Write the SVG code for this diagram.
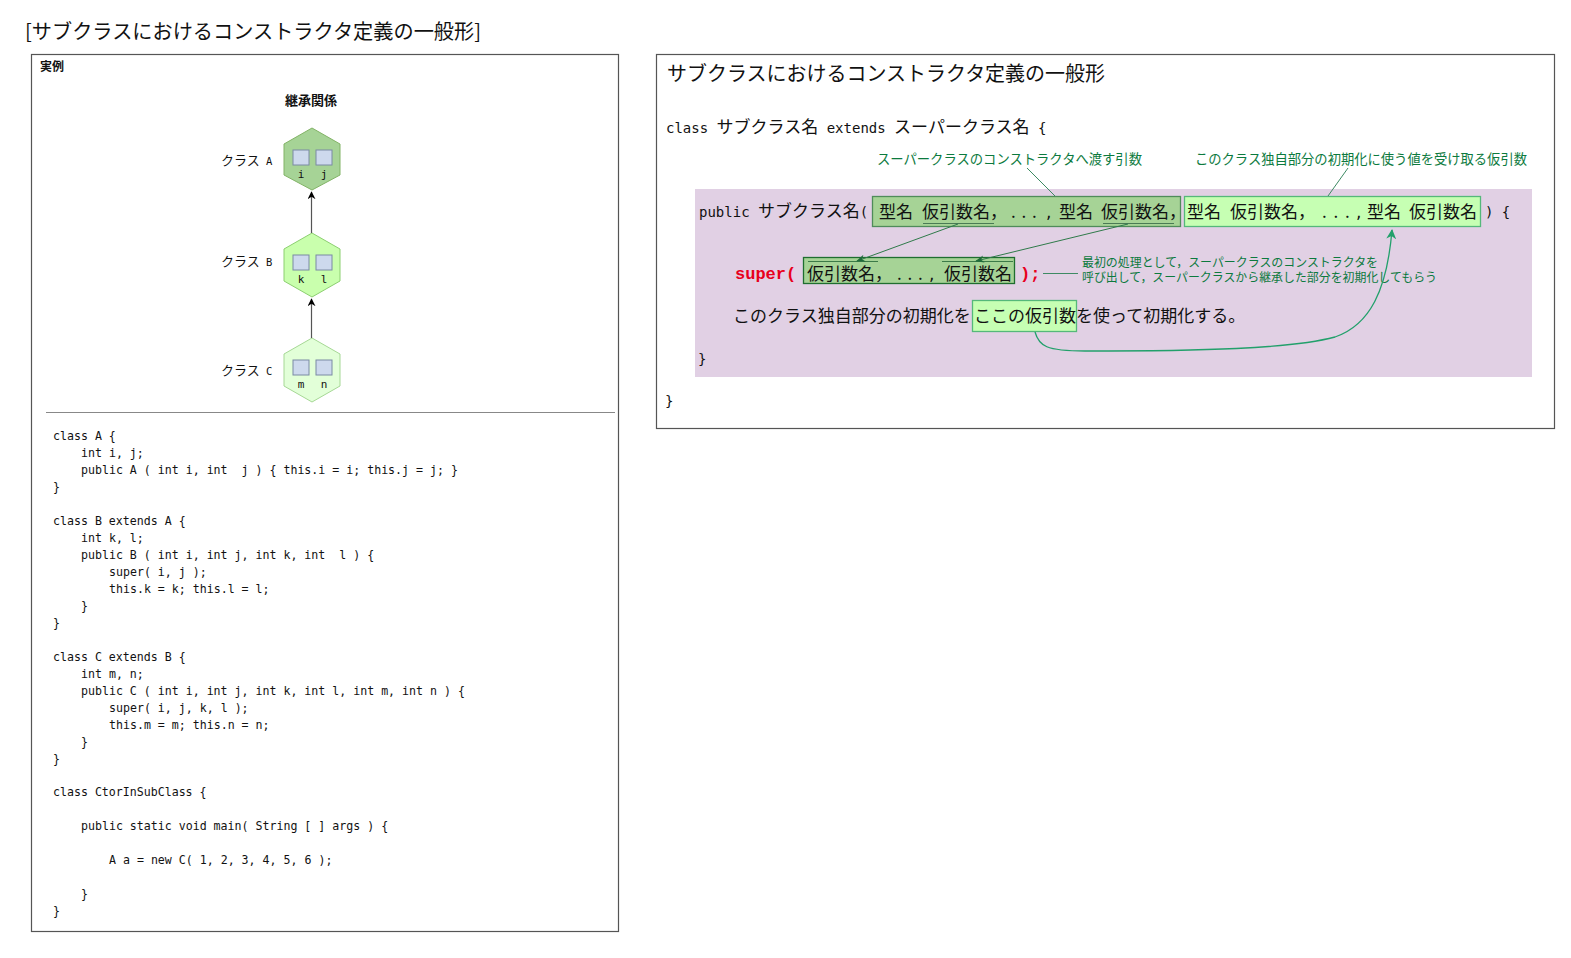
<svg xmlns="http://www.w3.org/2000/svg" width="1571" height="958" viewBox="0 0 1571 958">
<style>
.jp{font-family:"Noto Sans CJK JP","Noto Sans",sans-serif;fill:#111}
.mono{font-family:"DejaVu Sans Mono","Liberation Mono",monospace;fill:#111}
.code{font-family:"DejaVu Sans Mono","Liberation Mono",monospace;font-size:11.6px;fill:#111;white-space:pre}
.ann{font-family:"Noto Sans CJK JP","Noto Sans",sans-serif;fill:#0c7a3e}
.panel{fill:#fff;stroke:#555;stroke-width:1.2}
.sq{fill:#cdd9ed;stroke:#7a8aa3;stroke-width:1}
.hl{font-family:"DejaVu Sans Mono","Liberation Mono",monospace;font-size:11px;fill:#111}
.red{font-family:"Liberation Mono","DejaVu Sans Mono",monospace;font-weight:bold;font-size:17px;fill:#e8001c}
.b17{font-size:17px}
.cm{font-family:"DejaVu Sans","Liberation Sans",sans-serif;font-size:17px;fill:#111}
</style>
<defs>
<marker id="ah" viewBox="0 0 10 10" refX="9" refY="5" markerWidth="8" markerHeight="8" orient="auto-start-reverse" markerUnits="userSpaceOnUse">
<path d="M0,0 L10,5 L0,10 L3,5 Z" fill="#000"/>
</marker>
<marker id="ag" viewBox="0 0 10 10" refX="9" refY="5" markerWidth="9" markerHeight="9" orient="auto" markerUnits="userSpaceOnUse">
<path d="M0,1 L10,5 L0,9 L3,5 Z" fill="#1f6b3a"/>
</marker>
<marker id="at" viewBox="0 0 10 10" refX="9" refY="5" markerWidth="10" markerHeight="10" orient="auto" markerUnits="userSpaceOnUse">
<path d="M0,0 L10,5 L0,10 L3,5 Z" fill="#22a06b"/>
</marker>
</defs>

<text id="main-title" class="jp" x="25" y="39" font-size="20.5" textLength="456" lengthAdjust="spacingAndGlyphs">[サブクラスにおけるコンストラクタ定義の一般形]</text>

<!-- Left panel -->
<g id="example-panel">
<rect class="panel" x="31.5" y="54.5" width="587" height="877"/>
<text class="jp" x="40" y="71" font-size="12" font-weight="bold">実例</text>
<text class="jp" x="311" y="105" font-size="13" font-weight="bold" text-anchor="middle">継承関係</text>
<line x1="46" y1="412.5" x2="615" y2="412.5" stroke="#888" stroke-width="1"/>
</g>

<g id="classA">
<polygon points="312,128 340,144 340,175 312,190 284,175 284,144" fill="#a6d396" stroke="#82b366"/>
<rect class="sq" x="293" y="150" width="16" height="15"/>
<rect class="sq" x="316" y="150" width="16" height="15"/>
<text class="hl" x="301" y="178" text-anchor="middle">i</text>
<text class="hl" x="324" y="178" text-anchor="middle">j</text>
<text class="jp" x="221" y="165" font-size="13">クラス<tspan class="mono" font-size="10.5"> A</tspan></text>
</g>
<g id="classB">
<polygon points="312,233 340,249 340,281 312,297 284,281 284,249" fill="#c9ffad" stroke="#8ccf70"/>
<rect class="sq" x="293" y="255" width="16" height="15"/>
<rect class="sq" x="316" y="255" width="16" height="15"/>
<text class="hl" x="301" y="283" text-anchor="middle">k</text>
<text class="hl" x="324" y="283" text-anchor="middle">l</text>
<text class="jp" x="221" y="266" font-size="13">クラス<tspan class="mono" font-size="10.5"> B</tspan></text>
</g>
<g id="classC">
<polygon points="312,338 340,354 340,386 312,402 284,386 284,354" fill="#e2ffd8" stroke="#a6d895"/>
<rect class="sq" x="293" y="360" width="16" height="15"/>
<rect class="sq" x="316" y="360" width="16" height="15"/>
<text class="hl" x="301" y="388" text-anchor="middle">m</text>
<text class="hl" x="324" y="388" text-anchor="middle">n</text>
<text class="jp" x="221" y="375" font-size="13">クラス<tspan class="mono" font-size="10.5"> C</tspan></text>
</g>

<g id="code">
<text class="code" x="53" y="440">class A {</text>
<text class="code" x="81" y="457">int i, j;</text>
<text class="code" x="81" y="474">public A ( int i, int  j ) { this.i = i; this.j = j; }</text>
<text class="code" x="53" y="491">}</text>
<text class="code" x="53" y="525">class B extends A {</text>
<text class="code" x="81" y="542">int k, l;</text>
<text class="code" x="81" y="559">public B ( int i, int j, int k, int  l ) {</text>
<text class="code" x="109" y="576">super( i, j );</text>
<text class="code" x="109" y="593">this.k = k; this.l = l;</text>
<text class="code" x="81" y="610">}</text>
<text class="code" x="53" y="627">}</text>
<text class="code" x="53" y="661">class C extends B {</text>
<text class="code" x="81" y="678">int m, n;</text>
<text class="code" x="81" y="695">public C ( int i, int j, int k, int l, int m, int n ) {</text>
<text class="code" x="109" y="712">super( i, j, k, l );</text>
<text class="code" x="109" y="729">this.m = m; this.n = n;</text>
<text class="code" x="81" y="746">}</text>
<text class="code" x="53" y="763">}</text>
<text class="code" x="53" y="796">class CtorInSubClass {</text>
<text class="code" x="81" y="830">public static void main( String [ ] args ) {</text>
<text class="code" x="109" y="864">A a = new C( 1, 2, 3, 4, 5, 6 );</text>
<text class="code" x="81" y="898">}</text>
<text class="code" x="53" y="915">}</text>
</g>

<!-- Right panel -->
<g id="general-panel">
<rect class="panel" x="656.5" y="54.5" width="898" height="374"/>
<text class="jp" x="667" y="81" font-size="20.5" textLength="438" lengthAdjust="spacingAndGlyphs">サブクラスにおけるコンストラクタ定義の一般形</text>
<text class="mono" x="666" y="133" font-size="14">class <tspan class="jp" font-size="17">サブクラス名</tspan> extends <tspan class="jp" font-size="17">スーパークラス名</tspan> {</text>
<rect x="695" y="189" width="837" height="188" fill="#e1d0e4"/>
<text class="mono" x="698" y="364" font-size="14">}</text>
<text class="mono" x="665" y="406" font-size="14">}</text>
</g>

<g id="ctor-signature">
<text class="mono" x="699" y="217" font-size="14">public <tspan class="jp" font-size="17">サブクラス名</tspan>(</text>
</g>

<g id="super-args">
<rect x="872.5" y="196.5" width="308" height="30" fill="#a6d396" stroke="#4f8c5a" stroke-width="1.3"/>
<text class="jp b17" x="879" y="218">型名</text>
<text class="jp b17" x="922" y="218">仮引数名，</text>
<text class="jp b17" x="1011 1021.5 1032" y="218">...</text>
<text class="cm" x="1046" y="218">,</text>
<text class="jp b17" x="1059" y="218">型名</text>
<text class="jp b17" x="1101" y="218">仮引数名，</text>
<line x1="923" y1="223.5" x2="994" y2="223.5" stroke="#4a7a55" stroke-width="1"/>
<line x1="1103" y1="223.5" x2="1174" y2="223.5" stroke="#4a7a55" stroke-width="1"/>
</g>

<g id="own-args">
<rect x="1184.5" y="196.5" width="296" height="30" fill="#c6ffb3" stroke="#55b87a" stroke-width="1.3"/>
<text class="jp b17" x="1187" y="218">型名</text>
<text class="jp b17" x="1230" y="218">仮引数名，</text>
<text class="jp b17" x="1322 1333.5 1345" y="218">...</text>
<text class="cm" x="1356" y="218">,</text>
<text class="jp b17" x="1367" y="218">型名</text>
<text class="jp b17" x="1409" y="218">仮引数名</text>
<text class="mono" x="1485" y="217" font-size="14">) {</text>
</g>

<g id="super-call">
<text class="red" x="735" y="279">super(</text>
<rect x="803.5" y="257.5" width="211" height="26" fill="#a6d396" stroke="#1f6e2f" stroke-width="1.3"/>
<text class="jp b17" x="807" y="280">仮引数名，</text>
<text class="jp b17" x="897 907.5 918" y="280">...</text>
<text class="cm" x="929" y="280">,</text>
<text class="jp b17" x="944" y="280">仮引数名</text>
<line x1="808" y1="261.5" x2="878" y2="261.5" stroke="#3c7a48" stroke-width="1"/>
<line x1="942" y1="261.5" x2="1013" y2="261.5" stroke="#3c7a48" stroke-width="1"/>
<text class="red" x="1020" y="279">);</text>
</g>

<g id="init-line">
<text class="jp b17" x="733" y="322">このクラス独自部分の初期化を</text>
<rect x="972.5" y="300.5" width="104" height="31" fill="#c6ffb3" stroke="#55b87a" stroke-width="1.3"/>
<text class="jp b17" x="974" y="322">ここの仮引数</text>
<text class="jp b17" x="1076" y="322">を使って初期化する。</text>
</g>

<g id="annotations">
<text class="ann" x="877" y="164" font-size="13.5" textLength="265" lengthAdjust="spacingAndGlyphs">スーパークラスのコンストラクタへ渡す引数</text>
<text class="ann" x="1195" y="164" font-size="13.5" textLength="332" lengthAdjust="spacingAndGlyphs">このクラス独自部分の初期化に使う値を受け取る仮引数</text>
<text class="ann" x="1082" y="267" font-size="12.2" textLength="296" lengthAdjust="spacingAndGlyphs">最初の処理として，スーパークラスのコンストラクタを</text>
<text class="ann" x="1082" y="282" font-size="12.2" textLength="355" lengthAdjust="spacingAndGlyphs">呼び出して，スーパークラスから継承した部分を初期化してもらう</text>
</g>

<g id="connectors" fill="none">
<line x1="311.5" y1="233" x2="311.5" y2="192" stroke="#555" stroke-width="1.2" marker-end="url(#ah)"/>
<line x1="311.5" y1="338" x2="311.5" y2="299" stroke="#555" stroke-width="1.2" marker-end="url(#ah)"/>
<line x1="1027" y1="168" x2="1055" y2="196" stroke="#3d8a63" stroke-width="1"/>
<line x1="1348" y1="168" x2="1328" y2="196" stroke="#3d8a63" stroke-width="1"/>
<line x1="958" y1="224" x2="857" y2="261" stroke="#2f7a4a" stroke-width="1" marker-end="url(#ag)"/>
<line x1="1128" y1="224" x2="976" y2="261" stroke="#2f7a4a" stroke-width="1" marker-end="url(#ag)"/>
<line x1="1043" y1="273.5" x2="1078" y2="273.5" stroke="#3d8a63" stroke-width="1"/>
<path d="M1035,332 C1039,346 1046,351 1085,351 C1200,351 1290,349 1335,337 C1370,325 1387,290 1392,230" stroke="#22a06b" stroke-width="1.3" marker-end="url(#at)"/>
</g>
</svg>
